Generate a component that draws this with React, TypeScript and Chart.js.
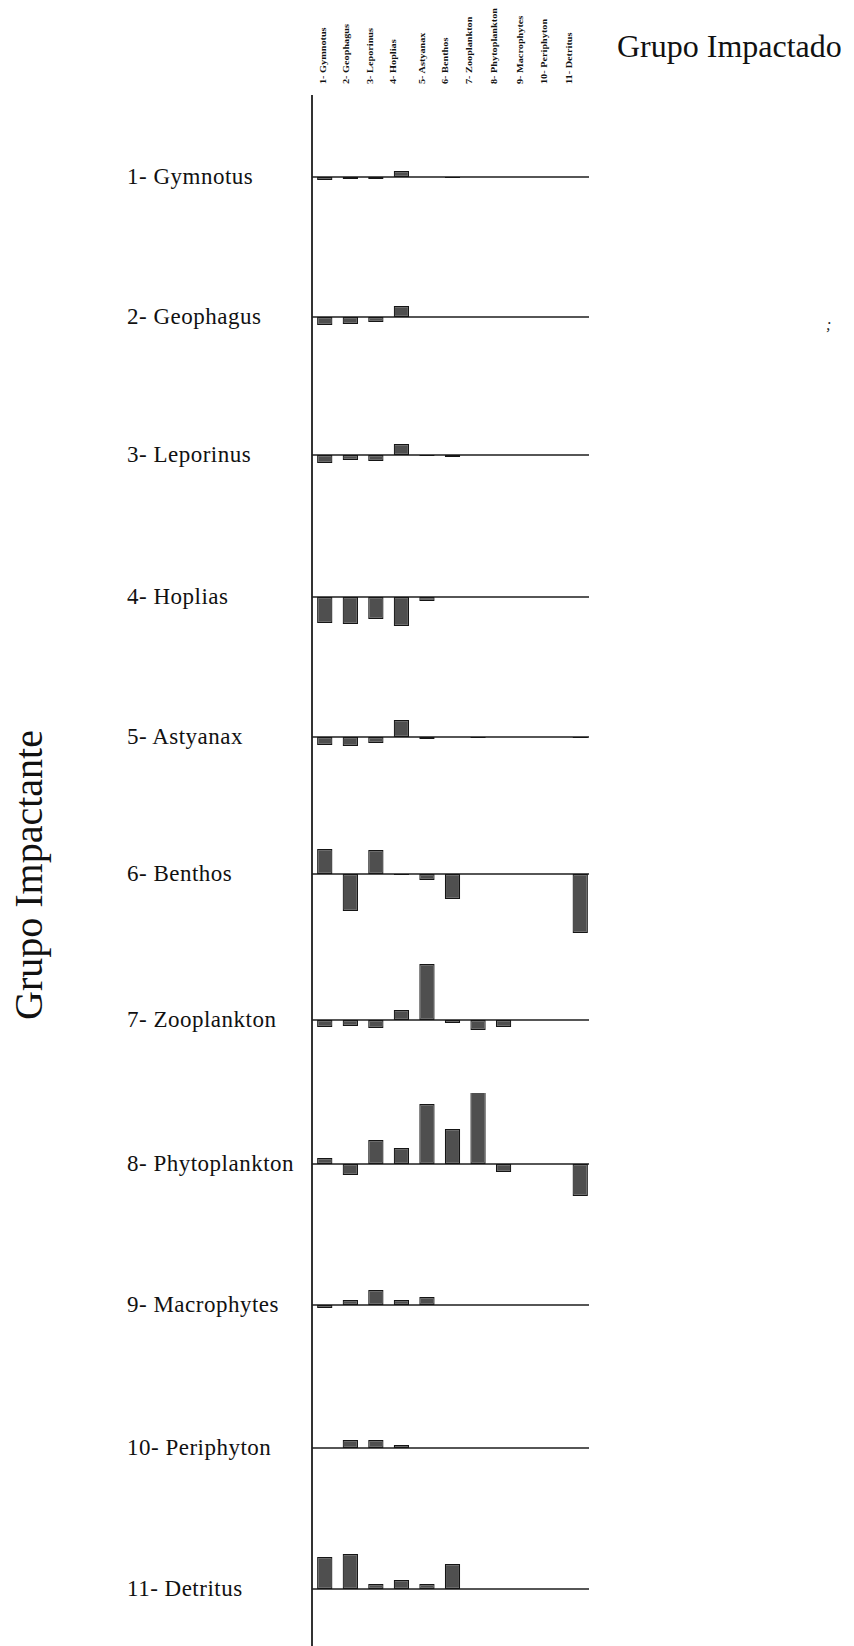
import React, { useEffect, useRef } from 'react';
import { Chart, registerables } from 'chart.js';

Chart.register(...registerables);

// ---------- data ----------
const impactingGroups = [
  '1- Gymnotus', '2- Geophagus', '3- Leporinus', '4- Hoplias', '5- Astyanax', '6- Benthos',
  '7- Zooplankton', '8- Phytoplankton', '9- Macrophytes', '10- Periphyton', '11- Detritus',
];
const impactedGroups = [
  '1- Gymnotus', '2- Geophagus', '3- Leporinus', '4- Hoplias', '5- Astyanax', '6- Benthos',
  '7- Zooplankton', '8- Phytoplankton', '9- Macrophytes', '10- Periphyton', '11- Detritus',
];

const gymnotusImpact = [-3, -2, -2, 6, 0, -1, 0, 0, 0, 0, 0];
const geophagusImpact = [-8, -7, -5, 11, 0, 0, 0, 0, 0, 0, 0];
const leporinusImpact = [-8, -5, -6, 11, -1, -2, 0, 0, 0, 0, 0];
const hopliasImpact = [-26, -27, -22, -29, -4, 0, 0, 0, 0, 0, 0];
const astyanaxImpact = [-8, -9, -6, 17, -2, 0, -1, 0, 0, 0, -1];
const benthosImpact = [25, -37, 24, -1, -6, -25, 0, 0, 0, 0, -59];
const zooplanktonImpact = [-7, -6, -8, 10, 56, -3, -10, -7, 0, 0, 0];
const phytoplanktonImpact = [6, -11, 24, 16, 60, 35, 80, -8, 0, 0, -32];
const macrophytesImpact = [-3, 5, 15, 5, 8, 0, 0, 0, 0, 0, 0];
const periphytonImpact = [0, 8, 8, 3, 0, 0, 0, 0, 0, 0, 0];
const detritusImpact = [32, 35, 5, 9, 5, 25, 0, 0, 0, 0, 0];

const impactRows = [
  gymnotusImpact, geophagusImpact, leporinusImpact, hopliasImpact, astyanaxImpact, benthosImpact,
  zooplanktonImpact, phytoplanktonImpact, macrophytesImpact, periphytonImpact, detritusImpact,
];

const Y_MIN = -70;
const Y_MAX = 71;

// ---------- layout ----------
const PLOT_LEFT = 312;
const PLOT_WIDTH = 281;
const ROW_HEIGHT = 141;
const rowBaselineY = [177, 317, 455, 597, 737, 874, 1020, 1164, 1305, 1448, 1589];
const colLabelX = [323, 346, 370, 393, 422, 445, 469, 494, 520, 544, 569];

const serif = '"Liberation Serif", "DejaVu Serif", serif';

const baselinePlugin = {
  id: 'zeroBaseline',
  beforeDatasetsDraw(chart: any) {
    const { ctx, chartArea, scales } = chart;
    const y = scales.y.getPixelForValue(0);
    ctx.save();
    ctx.strokeStyle = '#1e1e1e';
    ctx.lineWidth = 1.3;
    ctx.beginPath();
    ctx.moveTo(chartArea.left, y);
    ctx.lineTo(chartArea.right - 4, y);
    ctx.stroke();
    ctx.restore();
  },
};

function RowChart({ values, top }: { values: number[]; top: number }) {
  const ref = useRef<HTMLCanvasElement | null>(null);
  useEffect(() => {
    if (!ref.current) return;
    const chart = new Chart(ref.current, {
      type: 'bar',
      data: {
        labels: impactedGroups,
        datasets: [
          {
            data: values,
            backgroundColor: '#4f4f4f',
            borderColor: '#151515',
            borderWidth: 1.2,
            borderSkipped: false,
            barPercentage: 0.6,
            categoryPercentage: 1,
            clip: false as any,
          },
        ],
      },
      options: {
        animation: false,
        responsive: false,
        maintainAspectRatio: false,
        layout: { padding: 0 },
        plugins: { legend: { display: false }, tooltip: { enabled: false }, title: { display: false } },
        scales: {
          x: { display: false, offset: true },
          y: { display: false, min: Y_MIN, max: Y_MAX },
        },
      },
      plugins: [baselinePlugin],
    });
    return () => chart.destroy();
  }, [values]);
  return (
    <canvas
      ref={ref}
      width={PLOT_WIDTH}
      height={ROW_HEIGHT}
      style={{ position: 'absolute', left: PLOT_LEFT, top, width: PLOT_WIDTH, height: ROW_HEIGHT }}
    />
  );
}

export default function App() {
  const zeroOffset = Y_MAX; // pixels from canvas top to the zero line (1 unit = 1 px)
  return (
    <div style={{ position: 'absolute', left: 0, top: 0, width: 854, height: 1646, background: '#fff', overflow: 'hidden' }}>
      {/* vertical axis line */}
      <div style={{ position: 'absolute', left: 311, top: 95, width: 1.5, height: 1551, background: '#333' }} />

      {impactRows.map((vals, i) => (
        <RowChart key={i} values={vals} top={rowBaselineY[i] - zeroOffset} />
      ))}

      {/* row labels */}
      {impactingGroups.map((g, i) => (
        <div
          key={g}
          style={{
            position: 'absolute', left: 127, top: rowBaselineY[i] - 12, fontFamily: serif, fontSize: 23,
            lineHeight: '23px', letterSpacing: 0.5, color: '#111', whiteSpace: 'nowrap',
          }}
        >
          {g}
        </div>
      ))}

      {/* column labels */}
      {impactedGroups.map((g, i) => (
        <div
          key={g}
          style={{
            position: 'absolute', left: colLabelX[i] - 4.5, top: 84, fontFamily: serif, fontSize: 8,
            fontWeight: 'bold', lineHeight: '9px', color: '#111', whiteSpace: 'nowrap',
            transformOrigin: '0 0', transform: 'rotate(-90deg) scaleX(1.28)',
          }}
        >
          {g}
        </div>
      ))}

      {/* titles */}
      <div style={{ position: 'absolute', left: 617, top: 30, fontFamily: serif, fontSize: 32, lineHeight: '32px', color: '#111', whiteSpace: 'nowrap' }}>
        Grupo Impactado
      </div>
      <div
        style={{
          position: 'absolute', left: 9, top: 1020, fontFamily: serif, fontSize: 40, lineHeight: '40px', color: '#111',
          whiteSpace: 'nowrap', transformOrigin: '0 0', transform: 'rotate(-90deg)',
        }}
      >
        Grupo Impactante
      </div>
      <div style={{ position: 'absolute', left: 826, top: 316, fontFamily: serif, fontSize: 16, fontStyle: 'italic', color: '#222' }}>;</div>
    </div>
  );
}
